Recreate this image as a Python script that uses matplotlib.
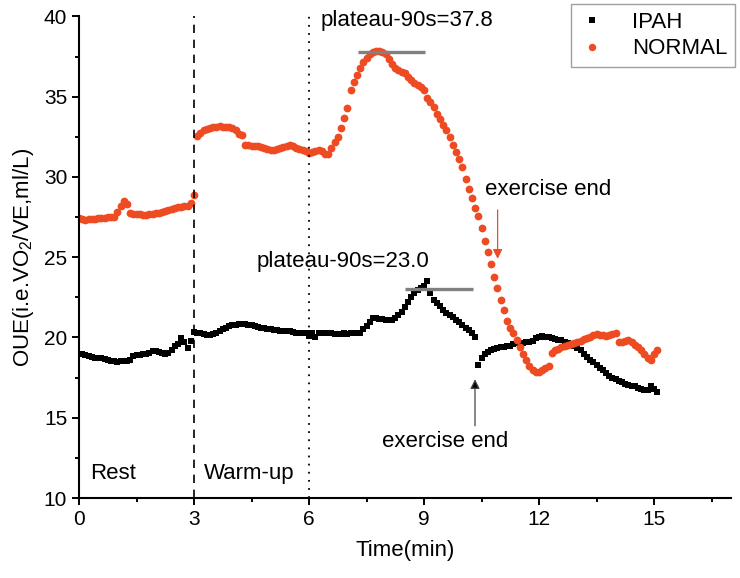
import numpy as np
import matplotlib
matplotlib.use("Agg")
import matplotlib.pyplot as plt

plt.rcParams['font.family'] = ['Liberation Sans', 'DejaVu Sans']
plt.rcParams['mathtext.fontset'] = 'custom'
plt.rcParams['mathtext.rm'] = 'Liberation Sans'

# samples every 5 s (1/12 min)
step_min = 5 / 60

normal_oue = [
    27.45, 27.40, 27.35, 27.38, 27.40, 27.38, 27.42, 27.45, 27.45, 27.48, 27.50, 27.50,
    27.80, 28.20, 28.50, 28.30, 27.75, 27.70, 27.70, 27.68, 27.65, 27.65, 27.68, 27.70,
    27.75, 27.78, 27.82, 27.88, 27.92, 27.98, 28.05, 28.10, 28.15, 28.18, 28.20, 28.36,
    28.85, 32.55, 32.75, 32.90, 33.00, 33.08, 33.12, 33.14, 33.15, 33.14, 33.12, 33.10,
    33.06, 32.95, 32.70, 32.60, 32.00, 31.98, 31.95, 31.94, 31.93, 31.88, 31.82, 31.75,
    31.70, 31.68, 31.72, 31.80, 31.88, 31.95, 31.98, 31.92, 31.82, 31.75, 31.68, 31.60,
    31.52, 31.55, 31.62, 31.68, 31.60, 31.45, 31.45, 31.80, 32.20, 32.50, 33.05, 33.70,
    34.30, 35.40, 35.90, 36.35, 36.80, 37.15, 37.40, 37.68, 37.80, 37.85, 37.85, 37.80,
    37.65, 37.35, 37.05, 36.80, 36.65, 36.55, 36.45, 36.25, 36.05, 35.85, 35.70, 35.60,
    35.40, 34.95, 34.65, 34.35, 33.95, 33.60, 33.25, 32.90, 32.50, 32.00, 31.55, 31.15,
    30.60, 29.85, 29.25, 28.70, 28.05, 27.55, 26.80, 26.00, 25.30, 24.60, 23.80, 23.10,
    22.35, 21.70, 21.00, 20.60, 20.25, 19.85, 19.43, 19.00, 18.60, 18.20, 17.95, 17.85,
    17.82, 17.95, 18.08, 18.20, 19.05, 19.20, 19.30, 19.40, 19.50, 19.55, 19.60, 19.65,
    19.70, 19.80, 19.88, 19.95, 20.05, 20.15, 20.20, 20.18, 20.15, 20.12, 20.15, 20.22,
    20.28, 19.75, 19.72, 19.78, 19.82, 19.70, 19.55, 19.40, 19.25, 19.00, 18.75, 18.60,
    18.95, 19.22,
]

ipah_oue = [
    19.00, 18.95, 18.90, 18.85, 18.80, 18.75, 18.72, 18.70, 18.68, 18.62, 18.55, 18.52,
    18.50, 18.52, 18.55, 18.55, 18.60, 18.85, 18.90, 18.92, 18.95, 18.98, 19.05, 19.15,
    19.18, 19.10, 19.05, 19.00, 19.05, 19.20, 19.45, 19.60, 19.95, 19.70, 19.35, 19.80,
    20.36, 20.30, 20.25, 20.20, 20.15, 20.15, 20.20, 20.30, 20.40, 20.50, 20.60, 20.70,
    20.75, 20.80, 20.82, 20.85, 20.82, 20.80, 20.75, 20.70, 20.65, 20.60, 20.58, 20.55,
    20.50, 20.48, 20.45, 20.42, 20.40, 20.40, 20.38, 20.35, 20.30, 20.28, 20.26, 20.25,
    20.10, 20.30, 20.00, 20.25, 20.28, 20.30, 20.26, 20.25, 20.22, 20.20, 20.22, 20.25,
    20.20, 20.25, 20.30, 20.28, 20.30, 20.55, 20.70, 20.95, 21.20, 21.20, 21.15, 21.13,
    21.10, 21.10, 21.10, 21.20, 21.40, 21.60, 21.90, 22.20, 22.50, 22.75, 22.95, 23.10,
    23.20, 23.55, 22.75, 22.35, 22.15, 21.95, 21.72, 21.55, 21.40, 21.25, 21.10, 20.95,
    20.80, 20.62, 20.45, 20.25, 20.05, 18.30, 18.70, 18.95, 19.10, 19.22, 19.28, 19.32,
    19.38, 19.42, 19.45, 19.50, 19.60, 19.65, 19.62, 19.68, 19.72, 19.74, 19.80, 19.95,
    20.05, 20.10, 20.05, 20.00, 19.95, 19.90, 19.85, 19.82, 19.75, 19.65, 19.58, 19.45,
    19.35, 19.20, 19.00, 18.80, 18.60, 18.45, 18.29, 18.10, 17.95, 17.80, 17.60, 17.50,
    17.40, 17.30, 17.20, 17.12, 17.05, 17.00, 16.95, 16.88, 16.80, 16.70, 16.75, 16.98,
    16.80, 16.62,
]

normal_time = np.arange(len(normal_oue)) * step_min
ipah_time = np.arange(len(ipah_oue)) * step_min

# plateau (90 s) values and spans
normal_plateau = 37.8
normal_plateau_span = (7.29, 9.03)
ipah_plateau = 23.0
ipah_plateau_span = (8.5, 10.27)

rest_end = 3
warmup_end = 6
red = '#EE4B22'

fig = plt.figure(figsize=(7.4, 5.78), dpi=100)
ax = fig.add_axes([0.1068, 0.1384, 0.8806, 0.8331])

ax.plot(ipah_time, ipah_oue, 's', color='black', ms=4.8, mew=0, label='IPAH')
ax.plot(normal_time, normal_oue, 'o', color=red, ms=5.6, mew=0, label='NORMAL')

ax.hlines(normal_plateau, *normal_plateau_span, color='#808080', lw=2.4, zorder=3)
ax.hlines(ipah_plateau, *ipah_plateau_span, color='#808080', lw=2.4, zorder=3)

ax.axvline(rest_end, color='black', ls=(0, (5, 4)), lw=1.2)
ax.axvline(warmup_end, color='black', ls=(0, (1, 3.5)), lw=1.3)

fs = 16
ax.text(6.29, 39.75, 'plateau-90s=37.8', fontsize=fs, va='center')
ax.text(4.64, 24.75, 'plateau-90s=23.0', fontsize=fs, va='center')
ax.text(10.59, 29.2, 'exercise end', fontsize=fs, va='center')
ax.text(7.9, 13.55, 'exercise end', fontsize=fs, va='center')
ax.text(0.28, 11.55, 'Rest', fontsize=fs, va='center')
ax.text(3.27, 11.55, 'Warm-up', fontsize=fs, va='center')

ax.annotate('', xy=(10.33, 17.4), xytext=(10.33, 14.5),
            arrowprops=dict(arrowstyle='-|>', color='#444444', lw=0.9,
                            mutation_scale=14, shrinkA=0, shrinkB=0,
                            fc='black'))
ax.annotate('', xy=(10.92, 24.9), xytext=(10.92, 27.95),
            arrowprops=dict(arrowstyle='-|>', color=red, lw=0.9,
                            mutation_scale=14, shrinkA=0, shrinkB=0))

ax.set_xlim(0, 17)
ax.set_ylim(10, 40)
ax.set_xticks([0, 3, 6, 9, 12, 15])
ax.set_xticks(np.arange(1.5, 17, 3), minor=True)
ax.set_yticks([10, 15, 20, 25, 30, 35, 40])
ax.set_yticks(np.arange(12.5, 40, 5), minor=True)
ax.tick_params(which='major', direction='out', length=5, width=1.4, labelsize=15)
ax.tick_params(which='minor', direction='out', length=3, width=1.4)
for side in ['top', 'right']:
    ax.spines[side].set_visible(False)
for side in ['left', 'bottom']:
    ax.spines[side].set_linewidth(1.5)

ax.set_xlabel('Time(min)', fontsize=16, labelpad=8)
ax.set_ylabel(r'OUE(i.e.VO$_\mathregular{2}$/VE,ml/L)', fontsize=16, labelpad=6)

leg = fig.legend(loc='upper right', bbox_to_anchor=(0.993, 0.993), fontsize=16,
                 markerscale=0.95, fancybox=False, edgecolor='#888888',
                 handletextpad=1.2, borderaxespad=0, handlelength=1.2,
                 borderpad=0.35, labelspacing=0.25)
leg.get_frame().set_linewidth(1.0)

fig.savefig('out.png', dpi=100)
